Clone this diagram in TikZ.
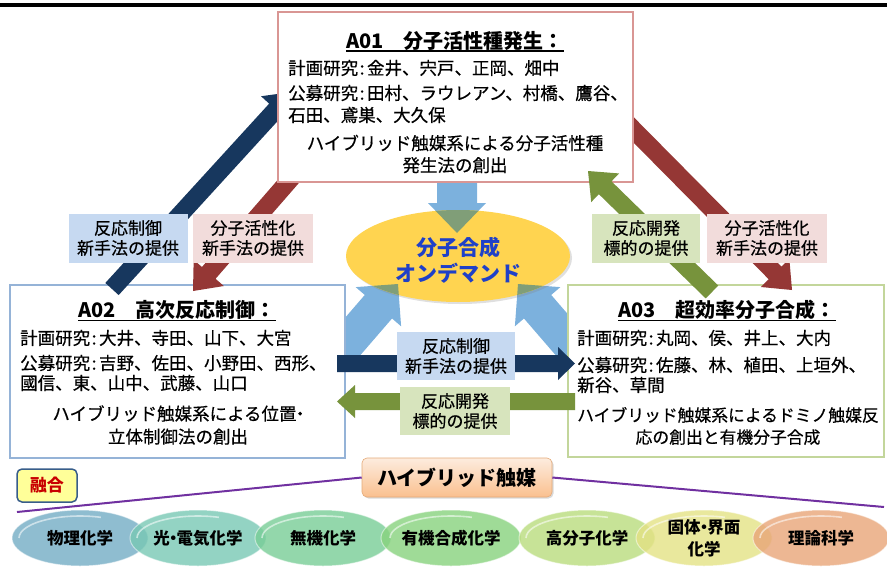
\documentclass[tikz,border=0pt]{standalone}
\usepackage{fontspec}
\setmainfont{Noto Sans CJK JP}
\newfontfamily\bodyf{Noto Sans CJK JP}[FakeBold=0.5]
\usetikzlibrary{calc,shapes.geometric,shadows}
\definecolor{navy}{RGB}{23,55,94}
\definecolor{darkred}{RGB}{149,55,53}
\definecolor{olive}{RGB}{119,147,60}
\definecolor{skyb}{RGB}{124,177,221}
\definecolor{overlapc}{RGB}{128,158,120}
\definecolor{pinkb}{RGB}{217,150,148}
\definecolor{blueb}{RGB}{149,179,215}
\definecolor{greenb}{RGB}{195,214,155}
\definecolor{lblue}{RGB}{198,217,241}
\definecolor{lpink}{RGB}{242,220,219}
\definecolor{lgreen}{RGB}{215,228,189}
\definecolor{gold}{RGB}{255,212,80}
\definecolor{textblue}{RGB}{31,64,200}
\definecolor{purp}{RGB}{112,48,160}
\definecolor{fusfill}{RGB}{255,255,153}
\definecolor{fusdraw}{RGB}{56,93,138}
\definecolor{fustext}{RGB}{200,0,0}
\definecolor{hytop}{RGB}{253,236,222}
\definecolor{hybot}{RGB}{250,192,143}
\definecolor{hydraw}{RGB}{228,170,120}
\definecolor{ca}{RGB}{115,172,196}
\definecolor{cb}{RGB}{120,200,180}
\definecolor{cc}{RGB}{120,205,150}
\definecolor{cd}{RGB}{135,210,125}
\definecolor{ce}{RGB}{185,220,125}
\definecolor{cf}{RGB}{228,226,132}
\definecolor{cg}{RGB}{232,165,120}
\newcommand\blockarrow[6]{%
  \coordinate (bah) at ($(#2)!#5!(#1)$);
  \fill[#6] ($(#1)!#3!90:(#2)$) -- ($(bah)!#3!-90:(#1)$) -- ($(bah)!#4!-90:(#1)$) -- (#2)
    -- ($(bah)!#4!90:(#1)$) -- ($(bah)!#3!90:(#1)$) -- ($(#1)!#3!-90:(#2)$) -- cycle;
}
\newcommand\gloss[1]{%
  \draw[white, draw opacity=0.55, line width=1.6pt] ([shift={(-61,0)}]#1.center)
    arc[start angle=180, end angle=70, x radius=61pt, y radius=22pt];
}
\newcommand\cln{\kern1.5pt:\kern2.5pt}
\newcommand\nd{\kern-0.3em・\kern-0.3em}
\begin{document}
\begin{tikzpicture}[x=1pt,y=-1pt,
  bodytxt/.style={font=\bodyf\fontsize{17.5}{22}\selectfont, inner sep=0pt, anchor=west, align=left},
  goaltxt/.style={font=\bodyf\fontsize{17.5}{22}\selectfont, inner sep=0pt, align=center},
  titletxt/.style={font=\bfseries\fontsize{20}{24}\selectfont, inner sep=0pt},
  labbox/.style={font=\bodyf\fontsize{17}{20}\selectfont, align=center, inner sep=0pt, minimum height=49pt},
  areabox/.style={draw, line width=2.5pt, fill=white, inner sep=0pt},
  ell/.style={ellipse, minimum width=136pt, minimum height=56pt, inner sep=0pt, align=center,
    font=\bfseries\fontsize{16.5}{22}\selectfont, fill opacity=0.8, text opacity=1,
    draw=white, draw opacity=0.5, line width=1pt}
]
\path[use as bounding box] (0,0) rectangle (887,566);
\fill[black] (0,3) rectangle (887,7);

% light blue arrows toward the centre
\coordinate (sbD1) at (457,170); \coordinate (sbD2) at (457,233);
\coordinate (sbL1) at (335,357); \coordinate (sbL2) at (398,284);
\coordinate (sbR1) at (581,357); \coordinate (sbR2) at (518,284);
\blockarrow{sbD1}{sbD2}{20pt}{29pt}{30pt}{skyb}
\blockarrow{sbL1}{sbL2}{18pt}{30pt}{30pt}{skyb}
\blockarrow{sbR1}{sbR2}{18pt}{30pt}{30pt}{skyb}

\node[ellipse, fill=gold, minimum width=224pt, minimum height=92pt, inner sep=0pt,
  drop shadow={opacity=0.25, shadow xshift=2pt, shadow yshift=-2pt}] (goal) at (458,256) {};
\begin{scope}
  \path[clip] (458,256) ellipse [x radius=112pt, y radius=46pt];
  \blockarrow{sbD1}{sbD2}{20pt}{29pt}{30pt}{overlapc}
  \blockarrow{sbL1}{sbL2}{18pt}{30pt}{30pt}{overlapc}
  \blockarrow{sbR1}{sbR2}{18pt}{30pt}{30pt}{overlapc}
\end{scope}
\node[font=\bfseries\fontsize{21}{26}\selectfont, text=textblue, align=center, inner sep=0pt] (goaltext) at (458,260) {分子合成\\オンデマンド};

% lower boxes
\node[areabox, draw=blueb, minimum width=335pt, minimum height=173pt] (a02) at (177.5,371.5) {};
\node[areabox, draw=greenb, minimum width=316pt, minimum height=172pt] (a03) at (726,371) {};

% arrows partly hidden by A01
\coordinate (nvS) at (112,289); \coordinate (nvE) at (292,92);
\coordinate (rdS) at (300,168); \coordinate (rdE) at (193,291);
\coordinate (rrS) at (612,108); \coordinate (rrE) at (792,290);
\blockarrow{nvS}{nvE}{9pt}{20pt}{24pt}{navy}
\blockarrow{rdS}{rdE}{9pt}{20pt}{24pt}{darkred}
\blockarrow{rrS}{rrE}{9pt}{20pt}{24pt}{darkred}

\node[areabox, draw=pinkb, minimum width=355pt, minimum height=170pt] (a01) at (455.5,97) {};

\coordinate (grS) at (712,292); \coordinate (grE) at (588,171);
\blockarrow{grS}{grE}{9pt}{20pt}{24pt}{olive}

\coordinate (hnS) at (337,363.5); \coordinate (hnE) at (575,363.5);
\coordinate (hgS) at (575,401.5); \coordinate (hgE) at (337,401.5);
\blockarrow{hnS}{hnE}{8.5pt}{16.5pt}{17pt}{navy}
\blockarrow{hgS}{hgE}{8.5pt}{16.5pt}{18pt}{olive}

% A01 text
\node[titletxt] (t1) at (455,41) {A01\quad 分子活性種発生：};
\draw[line width=1.2pt] ([yshift=-2.5pt]t1.base west) -- ([yshift=-2.5pt]t1.base east);
\node[bodytxt] (p1) at (288,68) {計画研究\cln 金井、宍戸、正岡、畑中};
\node[bodytxt] (o1) at (288,104) {公募研究\cln 田村、ラウレアン、村橋、鷹谷、\\石田、鳶巣、大久保};
\node[goaltxt] (g1) at (455,154) {ハイブリッド触媒系による分子活性種\\発生法の創出};

% A02 text
\node[titletxt] (t2) at (177,310) {A02\quad 高次反応制御：};
\draw[line width=1.2pt] ([yshift=-2.5pt]t2.base west) -- ([yshift=-2.5pt]t2.base east);
\node[bodytxt] (p2) at (20,338) {計画研究\cln 大井、寺田、山下、大宮};
\node[bodytxt, font=\bodyf\fontsize{17.5}{20}\selectfont] (o2) at (20,373) {公募研究\cln 吉野、佐田、小野田、西形、\\國信、東、山中、武藤、山口};
\node[goaltxt, font=\bodyf\fontsize{17.5}{23}\selectfont] (g2) at (178,425) {ハイブリッド触媒系による位置\nd\\立体制御法の創出};

% A03 text
\node[titletxt] (t3) at (727,310) {A03\quad 超効率分子合成：};
\draw[line width=1.2pt] ([yshift=-2.5pt]t3.base west) -- ([yshift=-2.5pt]t3.base east);
\node[bodytxt] (p3) at (577,338) {計画研究\cln 丸岡、侯、井上、大内};
\node[bodytxt, font=\bodyf\fontsize{17.5}{20}\selectfont] (o3) at (577,375) {公募研究\cln 佐藤、林、植田、上垣外、\\新谷、草間};
\node[goaltxt, font=\bodyf\fontsize{16.8}{22}\selectfont] (g3) at (728,426) {ハイブリッド触媒系によるドミノ触媒反\\応の創出と有機分子合成};

% labels
\node[labbox, fill=lblue, minimum width=119pt] (l1) at (128,238) {反応制御\\新手法の提供};
\node[labbox, fill=lpink, minimum width=120pt] (l2) at (253,238) {分子活性化\\新手法の提供};
\node[labbox, fill=lgreen, minimum width=108pt] (l3) at (646,238) {反応開発\\標的の提供};
\node[labbox, fill=lpink, minimum width=120pt] (l4) at (767,238) {分子活性化\\新手法の提供};
\node[labbox, fill=lblue, minimum width=118pt, minimum height=48pt] (l5) at (456,356) {反応制御\\新手法の提供};
\node[labbox, fill=lgreen, minimum width=110pt, minimum height=48pt] (l6) at (455,411) {反応開発\\標的の提供};

% bottom part
\coordinate (pl1) at (17,512); \coordinate (pl2) at (884,507);
\node[draw=hydraw, line width=0.6pt, rounded corners=5pt, top color=hytop, bottom color=hybot,
  minimum width=190pt, minimum height=39pt, inner sep=0pt, font=\bfseries\fontsize{20}{24}\selectfont,
  drop shadow={opacity=0.3, shadow xshift=1.5pt, shadow yshift=-1.5pt}] (hy) at (457,477.5) {ハイブリッド触媒};
\draw[purp, line width=2pt] (pl1) -- (hy.west);
\draw[purp, line width=2pt] (hy.east) -- (pl2);
\node[draw=fusdraw, line width=1.5pt, fill=fusfill, rounded corners=5pt, minimum width=60pt,
  minimum height=33pt, inner sep=0pt, text=fustext, font=\bfseries\fontsize{17}{20}\selectfont] (fz) at (47,485.5) {融合};

\node[ell, fill=ca] (e1) at (80,538) {物理化学};
\gloss{e1}
\node[ell, fill=cb] (e2) at (198,538) {光\nd 電気化学};
\gloss{e2}
\node[ell, fill=cc] (e3) at (323,538) {無機化学};
\gloss{e3}
\node[ell, fill=cd] (e4) at (451,538) {有機合成化学};
\gloss{e4}
\node[ell, fill=ce] (e5) at (587,538) {高分子化学};
\gloss{e5}
\node[ell, fill=cf] (e6) at (704,538) {固体\nd 界面\\化学};
\gloss{e6}
\node[ell, fill=cg] (e7) at (821,538) {理論科学};
\gloss{e7}
\end{tikzpicture}
\end{document}
